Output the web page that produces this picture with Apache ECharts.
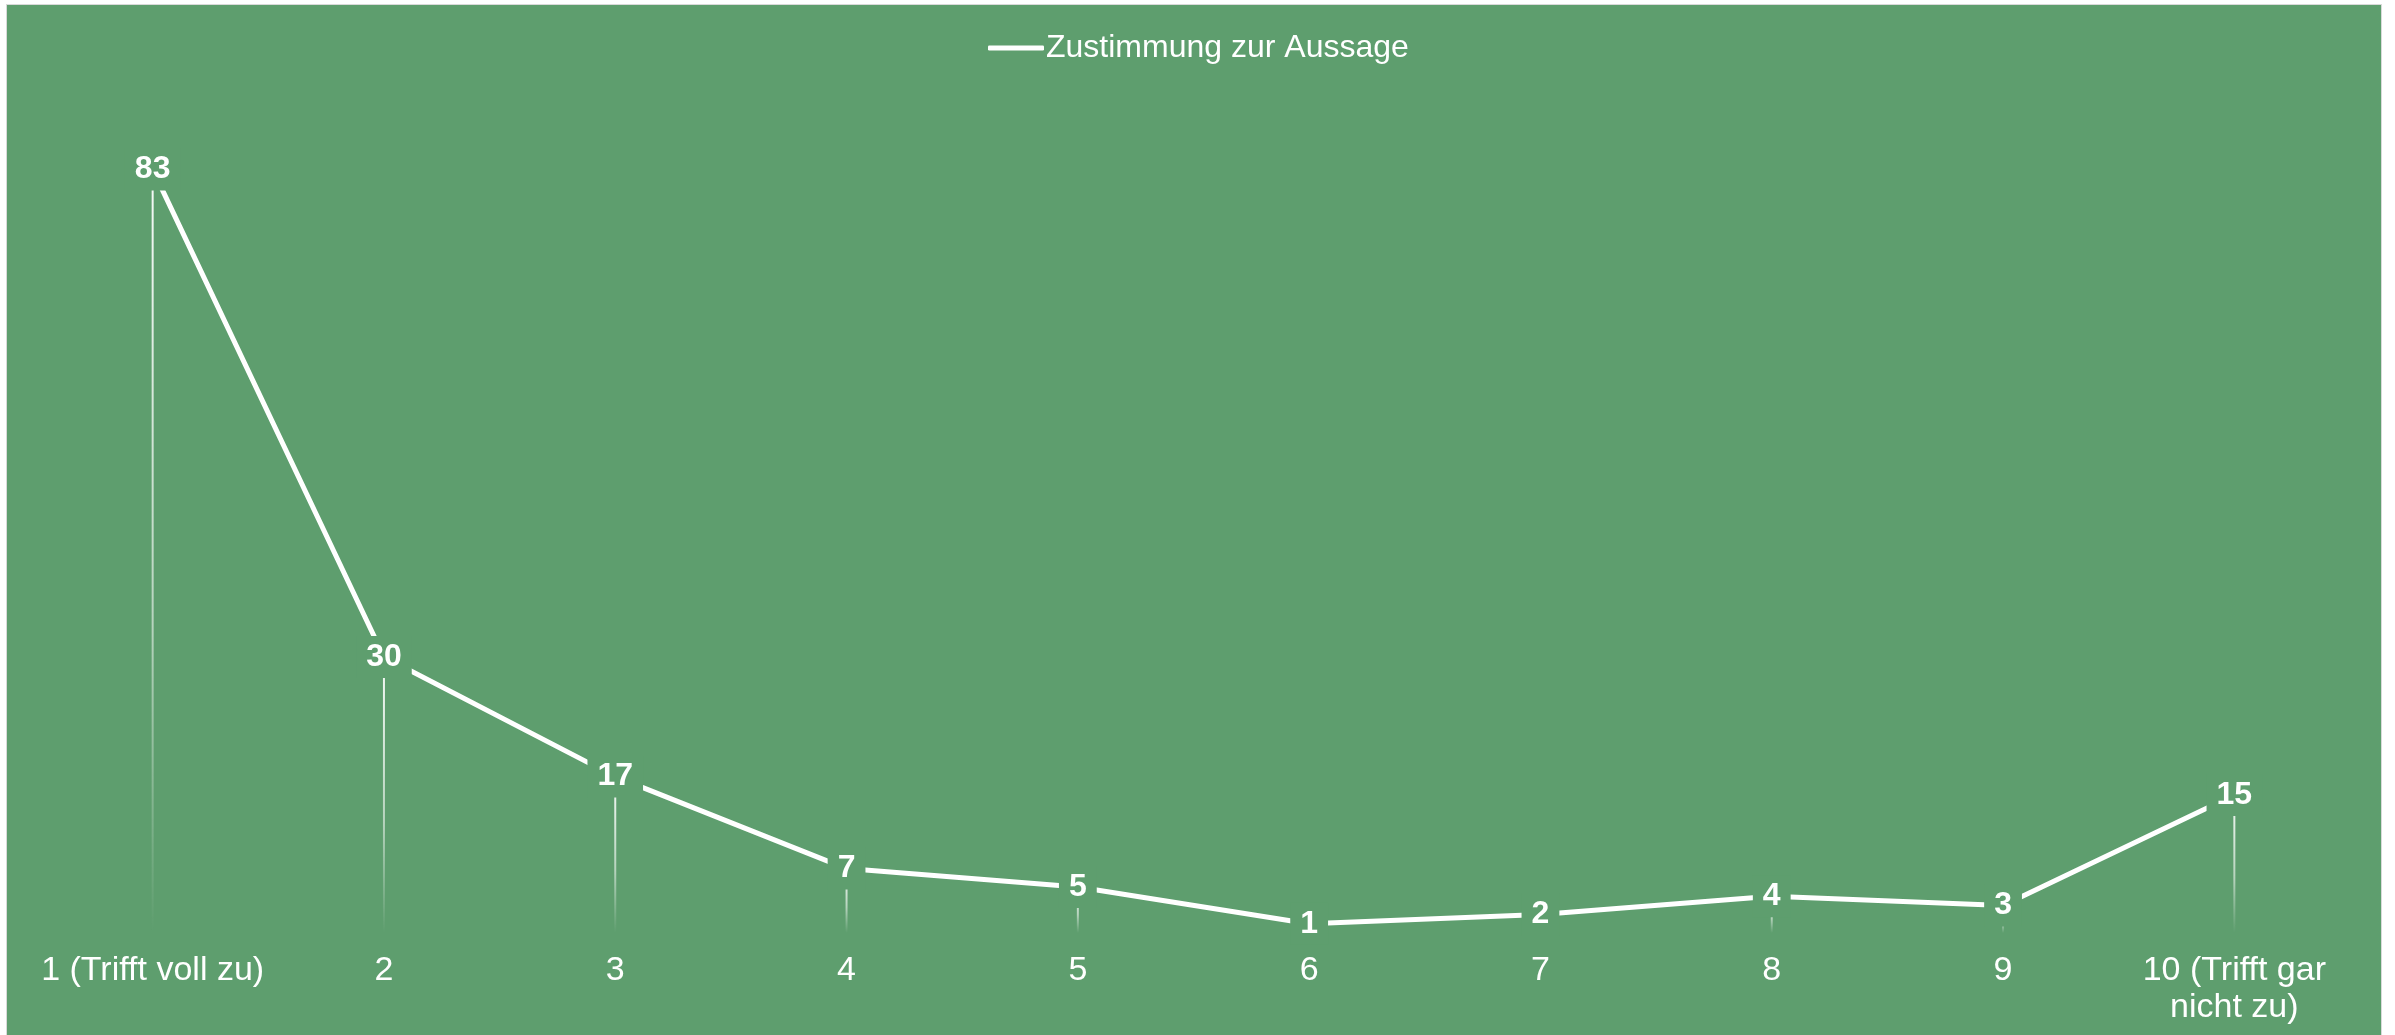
<!DOCTYPE html>
<html>
<head>
<meta charset="utf-8">
<script src="https://cdn.jsdelivr.net/npm/echarts@6/dist/echarts.min.js"></script>
<style>
  html, body { margin: 0; padding: 0; background: #ffffff; }
  #frame {
    position: absolute; left: 6px; top: 4px;
    width: 2374px; height: 1031px;
    border: 1px solid #d9d9d9; border-bottom: none;
    background: #5e9e6e;
  }
  #chart { width: 100%; height: 100%; }
</style>
</head>
<body>
<div id="frame"><div id="chart"></div></div>
<script>
const categories = ['1 (Trifft voll zu)', '2', '3', '4', '5', '6', '7', '8', '9', '10 (Trifft gar\nnicht zu)']
const zustimmung = [83, 30, 17, 7, 5, 1, 2, 4, 3, 15]
const seriesName = 'Zustimmung zur Aussage'

const green = '#5e9e6e'
const font = 'Liberation Sans, Arial, sans-serif'

const chart = echarts.init(document.getElementById('chart'))
chart.setOption({
    backgroundColor: 'transparent',
    animation: false,
    legend: {
        top: 27,
        left: 981,
        padding: 0,
        data: [{ name: seriesName, icon: 'roundRect' }],
        itemWidth: 56,
        itemHeight: 5,
        itemGap: 10,
        textStyle: { color: '#ffffff', fontSize: 32, fontFamily: font, padding: [0, 0, 0, -3] }
    },
    grid: { left: 30, right: 31, top: 100, bottom: 103 },
    xAxis: {
        type: 'category',
        data: categories,
        boundaryGap: true,
        axisLine: { show: false },
        axisTick: { show: false },
        axisLabel: { color: '#ffffff', fontSize: 34, fontFamily: font, margin: 19, lineHeight: 37, interval: 0 }
    },
    yAxis: {
        type: 'value',
        min: 0,
        max: 90,
        show: false,
        splitLine: { show: false }
    },
    series: [
        {
            // drop lines
            type: 'bar',
            data: zustimmung,
            barWidth: 2,
            silent: true,
            z: 1,
            itemStyle: {
                color: new echarts.graphic.LinearGradient(0, 0, 0, 1, [
                    { offset: 0, color: 'rgba(255, 255, 255, 0.95)' },
                    { offset: 0.6, color: 'rgba(255, 255, 255, 0.55)' },
                    { offset: 1, color: 'rgba(255, 255, 255, 0)' }
                ])
            }
        },
        {
            name: seriesName,
            type: 'line',
            data: zustimmung,
            z: 5,
            symbol: 'circle',
            symbolSize: 1,
            lineStyle: { color: '#ffffff', width: 5 },
            itemStyle: { color: '#ffffff' },
            label: {
                show: true,
                position: 'inside',
                color: '#ffffff',
                fontSize: 32,
                fontWeight: 'bold',
                fontFamily: font,
                backgroundColor: green,
                padding: [5, 10]
            }
        }
    ]
})
</script>
</body>
</html>
